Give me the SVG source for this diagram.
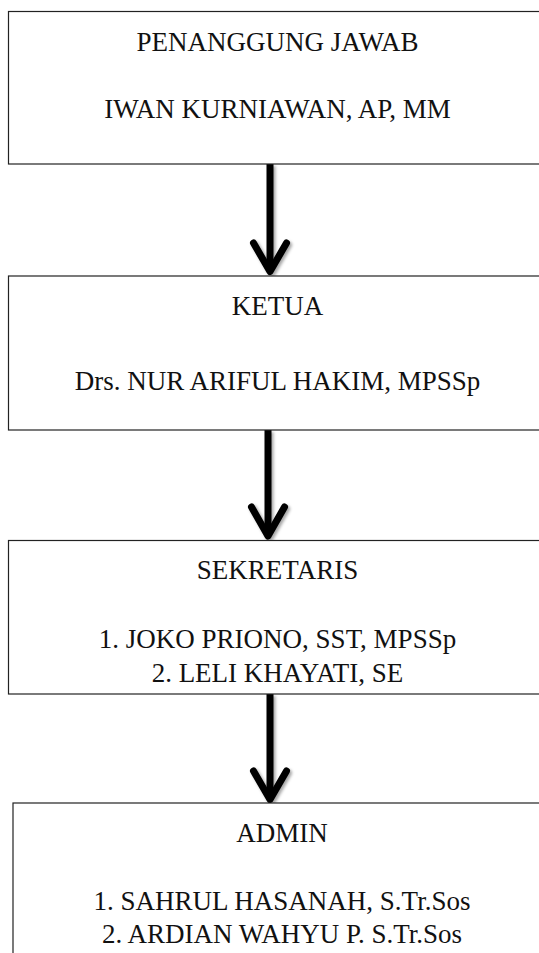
<svg xmlns="http://www.w3.org/2000/svg" width="539" height="953" viewBox="0 0 539 953">
<style>
.box{fill:#fff;stroke:#222;stroke-width:1.2}
.t{font-family:"Liberation Serif","Times New Roman",serif;font-size:27px;fill:#111;text-anchor:middle}
.arr{fill:none;stroke:#000;stroke-width:7;stroke-linecap:round;stroke-linejoin:round}
.stem{stroke:#000;stroke-width:7}
</style>
<defs>
<filter id="sh" x="-50%" y="-10%" width="200%" height="130%">
<feDropShadow dx="2" dy="2" stdDeviation="1.5" flood-color="#000" flood-opacity="0.35"/>
</filter>
</defs>
<rect width="539" height="953" fill="#fff"/>
<g id="connectors" filter="url(#sh)">
<line class="stem" x1="270" y1="164" x2="270" y2="271"/>
<polyline class="arr" points="253.5,243 270,271.5 286.5,243"/>
<line class="stem" x1="268" y1="430" x2="268" y2="536"/>
<polyline class="arr" points="251.5,507 268,536 284.5,507"/>
<line class="stem" x1="270" y1="694" x2="270" y2="799"/>
<polyline class="arr" points="253.5,771 270,799.5 286.5,771"/>
</g>
<g id="penanggung-jawab">
<rect class="box" x="8.5" y="11.5" width="538" height="152.5"/>
<text class="t" x="277.5" y="51">PENANGGUNG JAWAB</text>
<text class="t" x="277.5" y="118">IWAN KURNIAWAN, AP, MM</text>
</g>
<g id="ketua">
<rect class="box" x="8.5" y="276" width="538" height="154"/>
<text class="t" x="277.5" y="315">KETUA</text>
<text class="t" x="277.5" y="390">Drs. NUR ARIFUL HAKIM, MPSSp</text>
</g>
<g id="sekretaris">
<rect class="box" x="8.5" y="540.5" width="538" height="153.5"/>
<text class="t" x="277.5" y="579">SEKRETARIS</text>
<text class="t" x="277.5" y="648">1. JOKO PRIONO, SST, MPSSp</text>
<text class="t" x="277.5" y="682">2. LELI KHAYATI, SE</text>
</g>
<g id="admin">
<rect class="box" x="13" y="803" width="538" height="170"/>
<text class="t" x="282" y="842">ADMIN</text>
<text class="t" x="282" y="910">1. SAHRUL HASANAH, S.Tr.Sos</text>
<text class="t" x="282" y="943">2. ARDIAN WAHYU P. S.Tr.Sos</text>
</g>
</svg>
